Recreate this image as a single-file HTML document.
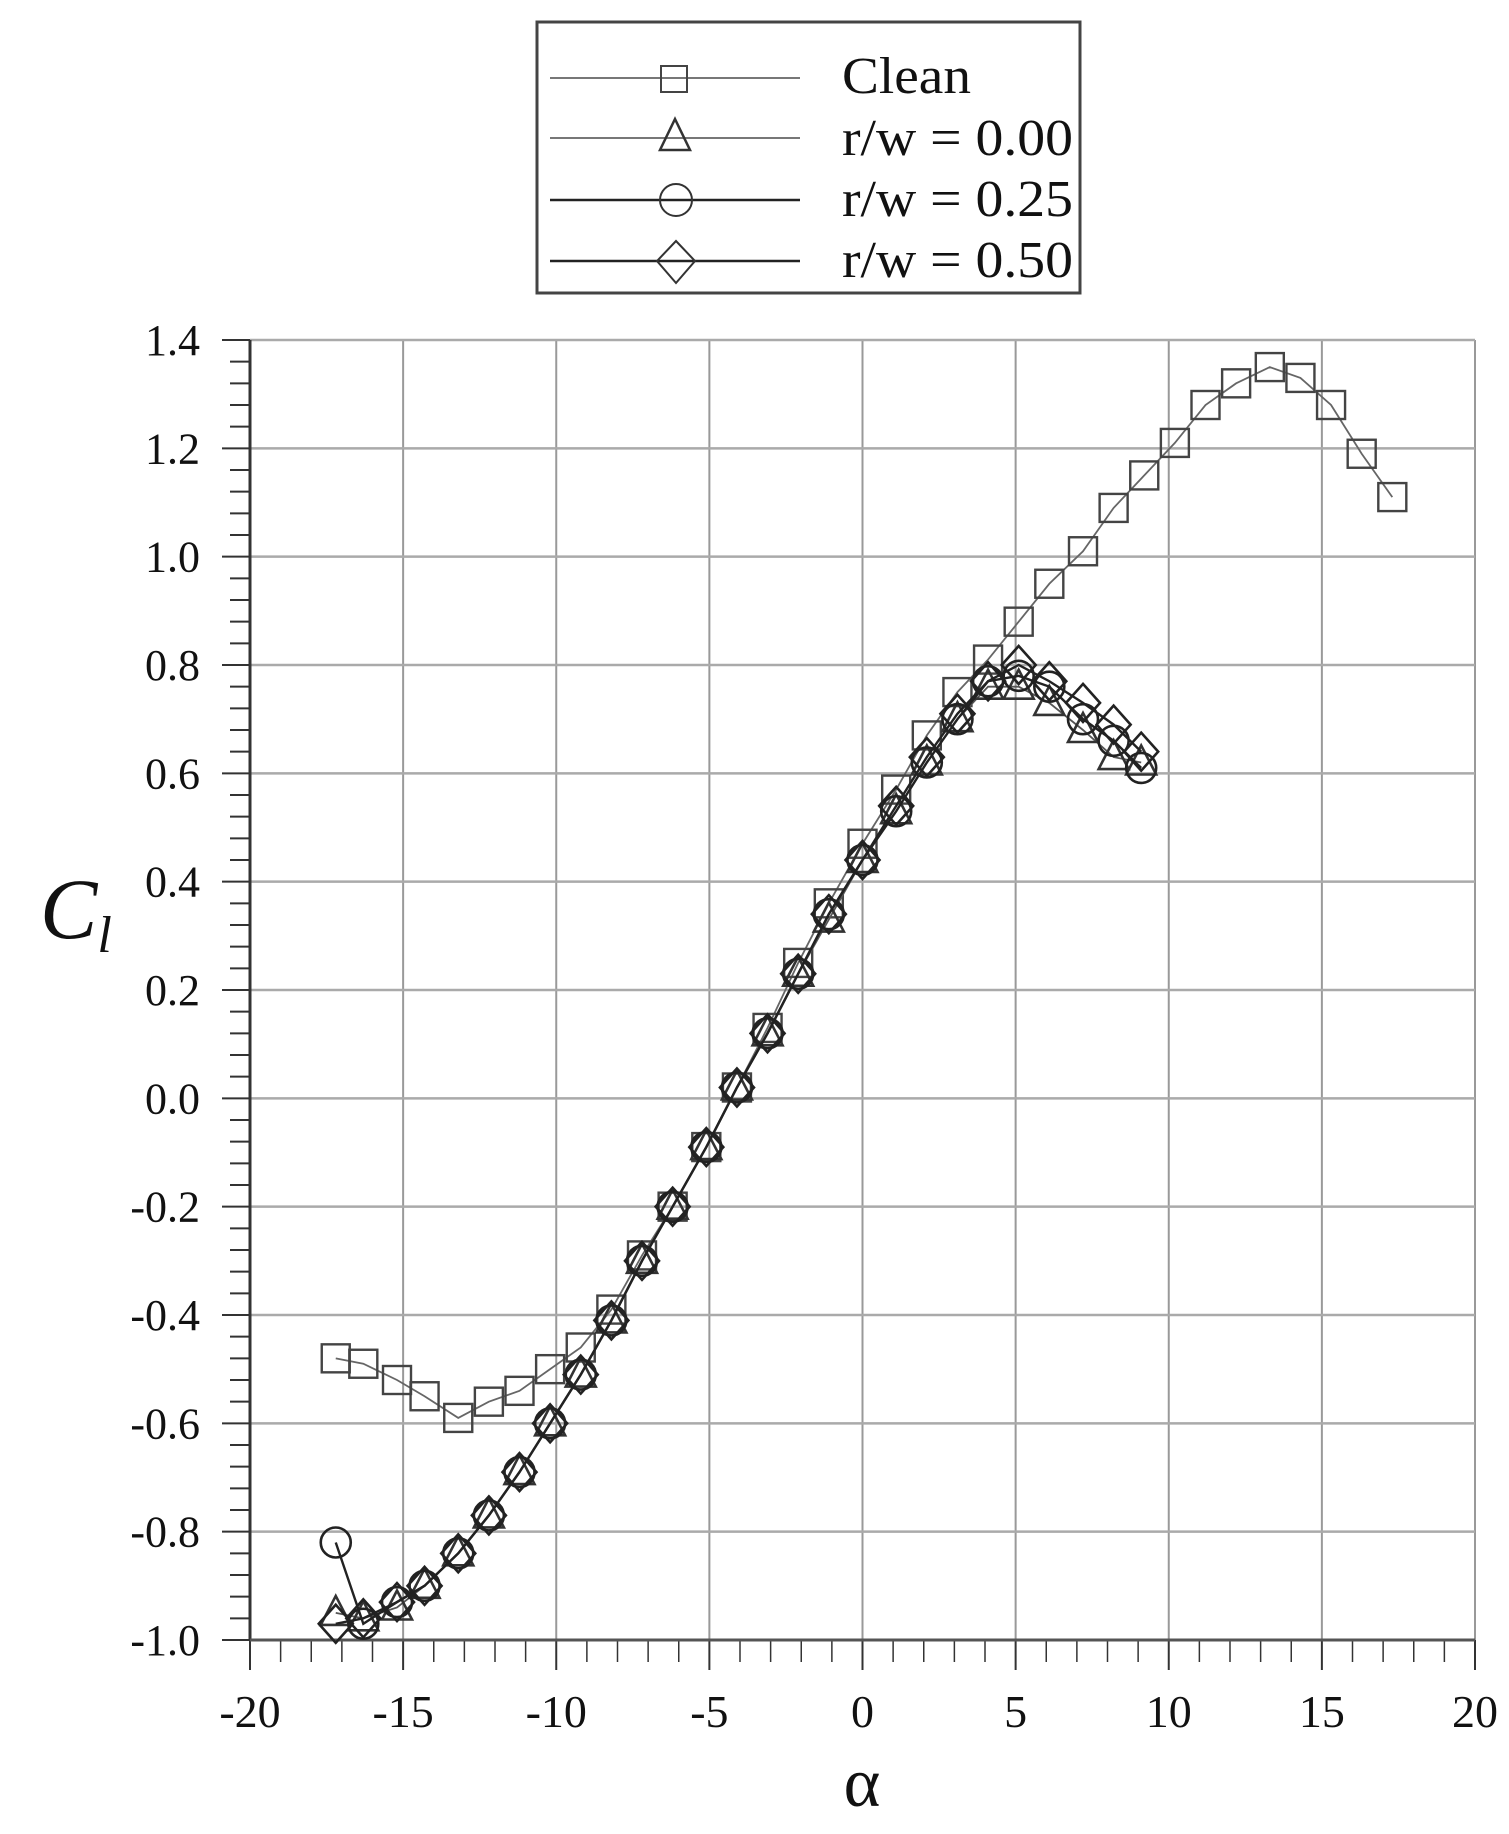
<!DOCTYPE html>
<html><head><meta charset="utf-8"><style>
body{margin:0;background:#fff}
svg text{font-family:"Liberation Serif",serif;fill:#111}
</style></head><body>
<svg id="chart" width="1509" height="1829" viewBox="0 0 1509 1829" xmlns="http://www.w3.org/2000/svg">
<g id="grid"></g>
<g id="axes"></g>
<g id="series"></g>
<g>
<rect x="537" y="22" width="543" height="271" fill="#fff" stroke="#444" stroke-width="3"/>
<g>
<line x1="550" y1="78" x2="800" y2="78" stroke="#777" stroke-width="2"/>
<rect x="661" y="66" width="26" height="26" fill="none" stroke="#444" stroke-width="2"/>
<text x="842" y="93" font-size="52" textLength="129" lengthAdjust="spacingAndGlyphs">Clean</text></g>
<g>
<line x1="550" y1="138" x2="800" y2="138" stroke="#777" stroke-width="2"/>
<polygon points="675,119 690,150 660,150" fill="none" stroke="#333" stroke-width="2.5"/>
<text x="842" y="155" font-size="52" textLength="231" lengthAdjust="spacingAndGlyphs">r/w = 0.00</text></g>
<g>
<line x1="550" y1="200" x2="800" y2="200" stroke="#222" stroke-width="2.5"/>
<circle cx="676" cy="200" r="16" fill="none" stroke="#333" stroke-width="2"/>
<text x="842" y="216" font-size="52" textLength="231" lengthAdjust="spacingAndGlyphs">r/w = 0.25</text></g>
<g>
<line x1="550" y1="261" x2="800" y2="261" stroke="#222" stroke-width="2.5"/>
<polygon points="676,241 695,261 676,283 657,261" fill="none" stroke="#333" stroke-width="2"/>
<text x="842" y="277" font-size="52" textLength="231" lengthAdjust="spacingAndGlyphs">r/w = 0.50</text></g>
</g>
<text x="862" y="1806" font-size="70" text-anchor="middle">α</text>
<text x="40" y="938" font-size="86" font-style="italic">C<tspan font-size="52" dy="14">l</tspan></text>
</svg>
<script>
const xTicks=[-20,-15,-10,-5,0,5,10,15,20];
const yTicks=[-1.0,-0.8,-0.6,-0.4,-0.2,0.0,0.2,0.4,0.6,0.8,1.0,1.2,1.4];
const cleanAlpha=[-17.2,-16.3,-15.2,-14.3,-13.2,-12.2,-11.2,-10.2,-9.2,-8.2,-7.2,-6.2,-5.1,-4.1,-3.1,-2.1,-1.1,0,1.1,2.1,3.1,4.1,5.1,6.1,7.2,8.2,9.2,10.2,11.2,12.2,13.3,14.3,15.3,16.3,17.3];
const cleanCl=[-0.48,-0.49,-0.52,-0.55,-0.59,-0.56,-0.54,-0.50,-0.46,-0.39,-0.29,-0.20,-0.09,0.02,0.13,0.25,0.36,0.47,0.57,0.67,0.75,0.81,0.88,0.95,1.01,1.09,1.15,1.21,1.28,1.32,1.35,1.33,1.28,1.19,1.11];
const rwAlpha=[-17.2,-16.3,-15.2,-14.3,-13.2,-12.2,-11.2,-10.2,-9.2,-8.2,-7.2,-6.2,-5.1,-4.1,-3.1,-2.1,-1.1,0,1.1,2.1,3.1,4.1,5.1,6.1,7.2,8.2,9.1];
const rw000Cl=[-0.95,-0.96,-0.94,-0.90,-0.84,-0.77,-0.69,-0.60,-0.51,-0.41,-0.30,-0.20,-0.09,0.02,0.12,0.23,0.33,0.44,0.53,0.62,0.70,0.76,0.76,0.73,0.68,0.63,0.62];
const rw025Cl=[-0.82,-0.97,-0.93,-0.90,-0.84,-0.77,-0.69,-0.60,-0.51,-0.41,-0.30,-0.20,-0.09,0.02,0.12,0.23,0.34,0.44,0.53,0.62,0.70,0.77,0.78,0.76,0.70,0.66,0.61];
const rw050Cl=[-0.97,-0.96,-0.93,-0.90,-0.84,-0.77,-0.69,-0.60,-0.51,-0.41,-0.30,-0.20,-0.09,0.02,0.12,0.23,0.34,0.44,0.54,0.63,0.71,0.77,0.80,0.77,0.73,0.69,0.64];
const NS="http://www.w3.org/2000/svg";
const L=250,R=1475,T=340,B=1640;
const xs=v=>L+(v+20)/40*(R-L);
const ys=v=>B-(v+1)/2.4*(B-T);
function mk(tag,attrs,parent){const e=document.createElementNS(NS,tag);for(const k in attrs)e.setAttribute(k,attrs[k]);parent.appendChild(e);return e;}
const grid=document.getElementById('grid'),axes=document.getElementById('axes'),ser=document.getElementById('series');
xTicks.forEach(t=>{const g=mk('line',{x1:xs(t),x2:xs(t),y1:T,y2:B,stroke:'#999','stroke-width':2},grid);


const tx=mk('text',{x:xs(t),y:1727,'font-size':46,'text-anchor':'middle'},axes);tx.textContent=t;

});
yTicks.forEach(t=>{const g=mk('line',{x1:L,x2:R,y1:ys(t),y2:ys(t),stroke:'#aaa','stroke-width':2.5},grid);


const tx=mk('text',{x:200,y:ys(t)+15,'font-size':44,'text-anchor':'end'},axes);tx.textContent=t.toFixed(1);

});
for(let i=-20;i<=20;i++){mk('line',{x1:xs(i),x2:xs(i),y1:B,y2:B+(i%5==0?30:22),stroke:'#333','stroke-width':i%5==0?2:1.5},axes);}
for(let i=0;i<=60;i++){const v=-1+i*0.04;mk('line',{x1:L-(i%5==0?28:20),x2:L,y1:ys(v),y2:ys(v),stroke:'#333','stroke-width':2},axes);}
mk('line',{x1:L,x2:L,y1:T,y2:B,stroke:'#333','stroke-width':3},axes);
mk('line',{x1:L,x2:R,y1:B,y2:B,stroke:'#555','stroke-width':3},axes);
function marker(type,x,y,p,stroke,sw){
 let e;
 if(type=='sq')e=mk('rect',{x:x-14,y:y-14,width:28,height:28},p);
 else if(type=='tri')e=mk('polygon',{points:`${x},${y-17} ${x+15},${y+12} ${x-15},${y+12}`},p);
 else if(type=='circ')e=mk('circle',{cx:x,cy:y,r:15},p);
 else e=mk('polygon',{points:`${x},${y-19} ${x+17},${y} ${x},${y+19} ${x-17},${y}`},p);
 e.setAttribute('fill','none');e.setAttribute('stroke',stroke);e.setAttribute('stroke-width',sw);
 
 
}
function draw(name,ax,ay,type,lc,lw,mc,sw){
 const g=mk('g',{},ser);
 
 
 const pl=mk('polyline',{points:ax.map((a,i)=>xs(a)+','+ys(ay[i])).join(' '),fill:'none',stroke:lc,'stroke-width':lw},g);
 
 
 ax.forEach((a,i)=>marker(type,xs(a),ys(ay[i]),g,mc,sw));
}
draw('series-clean',cleanAlpha,cleanCl,'sq','#666',1.8,'#444',2.4);
draw('series-rw000',rwAlpha,rw000Cl,'tri','#555',1.8,'#333',2.6);
draw('series-rw025',rwAlpha,rw025Cl,'circ','#222',2.4,'#222',2.6);
draw('series-rw050',rwAlpha,rw050Cl,'dia','#222',2.4,'#222',2.6);
</script>
</body></html>
